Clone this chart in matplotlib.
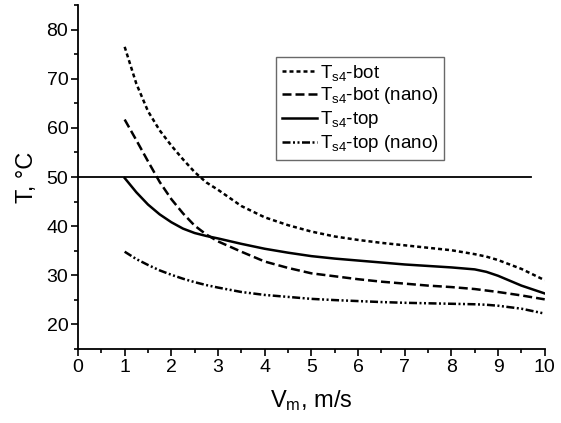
import matplotlib.pyplot as plt
import numpy as np
from matplotlib.ticker import MultipleLocator

plt.rcParams['font.family'] = ['Liberation Sans', 'DejaVu Sans']
plt.rcParams['mathtext.fontset'] = 'custom'
plt.rcParams['mathtext.rm'] = 'Liberation Sans'
plt.rcParams['mathtext.it'] = 'Liberation Sans'
plt.rcParams['mathtext.default'] = 'regular'

# data
v = [1, 1.25, 1.5, 1.75, 2, 2.25, 2.5, 2.75, 3, 3.5, 4, 4.5, 5, 5.5,
     6, 6.5, 7, 7.5, 8, 8.5, 8.75, 9, 9.5, 10]
t_bot = [76.5, 69, 63.4, 59.5, 56.4, 53.6, 51, 48.9, 47.4, 44.1, 41.8, 40.2, 38.9, 37.9,
         37.2, 36.6, 36.1, 35.6, 35.1, 34.3, 33.8, 33.1, 31.3, 29]
t_bot_nano = [61.7, 57.5, 53.2, 49, 45.5, 42.6, 40.1, 38.3, 36.9, 34.8, 32.8, 31.5, 30.4, 29.8,
              29.2, 28.7, 28.3, 27.9, 27.6, 27.2, 26.9, 26.6, 25.9, 25.1]
t_top = [49.8, 46.9, 44.4, 42.4, 40.8, 39.5, 38.6, 38, 37.5, 36.4, 35.4, 34.6, 33.9, 33.4,
         33, 32.6, 32.2, 31.9, 31.6, 31.2, 30.7, 29.9, 27.9, 26.3]
t_top_nano = [34.8, 33.3, 32.1, 31, 30.1, 29.3, 28.6, 28, 27.5, 26.6, 26, 25.6, 25.2, 24.95,
              24.75, 24.55, 24.4, 24.3, 24.2, 24.1, 24.0, 23.8, 23.2, 22.2]
limit_T = 50
limit_v = [0, 9.7]

labels = ["T$_{s4}$-bot", "T$_{s4}$-bot (nano)", "T$_{s4}$-top", "T$_{s4}$-top (nano)"]

fig = plt.figure(figsize=(5.61, 4.23), dpi=100)
ax = fig.add_axes([0.139, 0.175, 0.832, 0.813])

lw = 1.8
ax.plot(v, t_bot, color="black", lw=lw, ls=(0, (1.6, 1.2)), label=labels[0])
ax.plot(v, t_bot_nano, color="black", lw=lw, ls=(0, (3.6, 1.6)), label=labels[1])
ax.plot(v, t_top, color="black", lw=lw, ls="-", label=labels[2])
ax.plot(v, t_top_nano, color="black", lw=lw, ls=(0, (3.2, 1.0, 0.8, 1.0, 0.8, 1.0)), label=labels[3])
ax.plot(limit_v, [limit_T, limit_T], color="black", lw=1.3)

ax.set_xlim(0, 10)
ax.set_ylim(15, 85)
ax.xaxis.set_major_locator(MultipleLocator(1))
ax.xaxis.set_minor_locator(MultipleLocator(0.5))
ax.yaxis.set_minor_locator(MultipleLocator(5))
ax.set_yticks(np.arange(20, 81, 10))
ax.spines["top"].set_visible(False)
ax.spines["right"].set_visible(False)
ax.spines["left"].set_linewidth(1.3)
ax.spines["bottom"].set_linewidth(1.3)
ax.tick_params(which="major", direction="out", length=5, width=1.2, labelsize=14, pad=2)
ax.tick_params(which="minor", direction="out", length=3, width=1.2)

ax.set_xlabel("V$_m$, m/s", fontsize=17, labelpad=9)
ax.set_ylabel("T, °C", fontsize=17, labelpad=6)

leg = ax.legend(loc="upper left", bbox_to_anchor=(0.424, 0.849), fontsize=13.5,
                frameon=True, fancybox=False, edgecolor="#444444",
                handlelength=1.9, handletextpad=0.15, borderpad=0.3,
                labelspacing=0.15, borderaxespad=0)
leg.get_frame().set_linewidth(1.0)

plt.savefig("out.png", dpi=100)
